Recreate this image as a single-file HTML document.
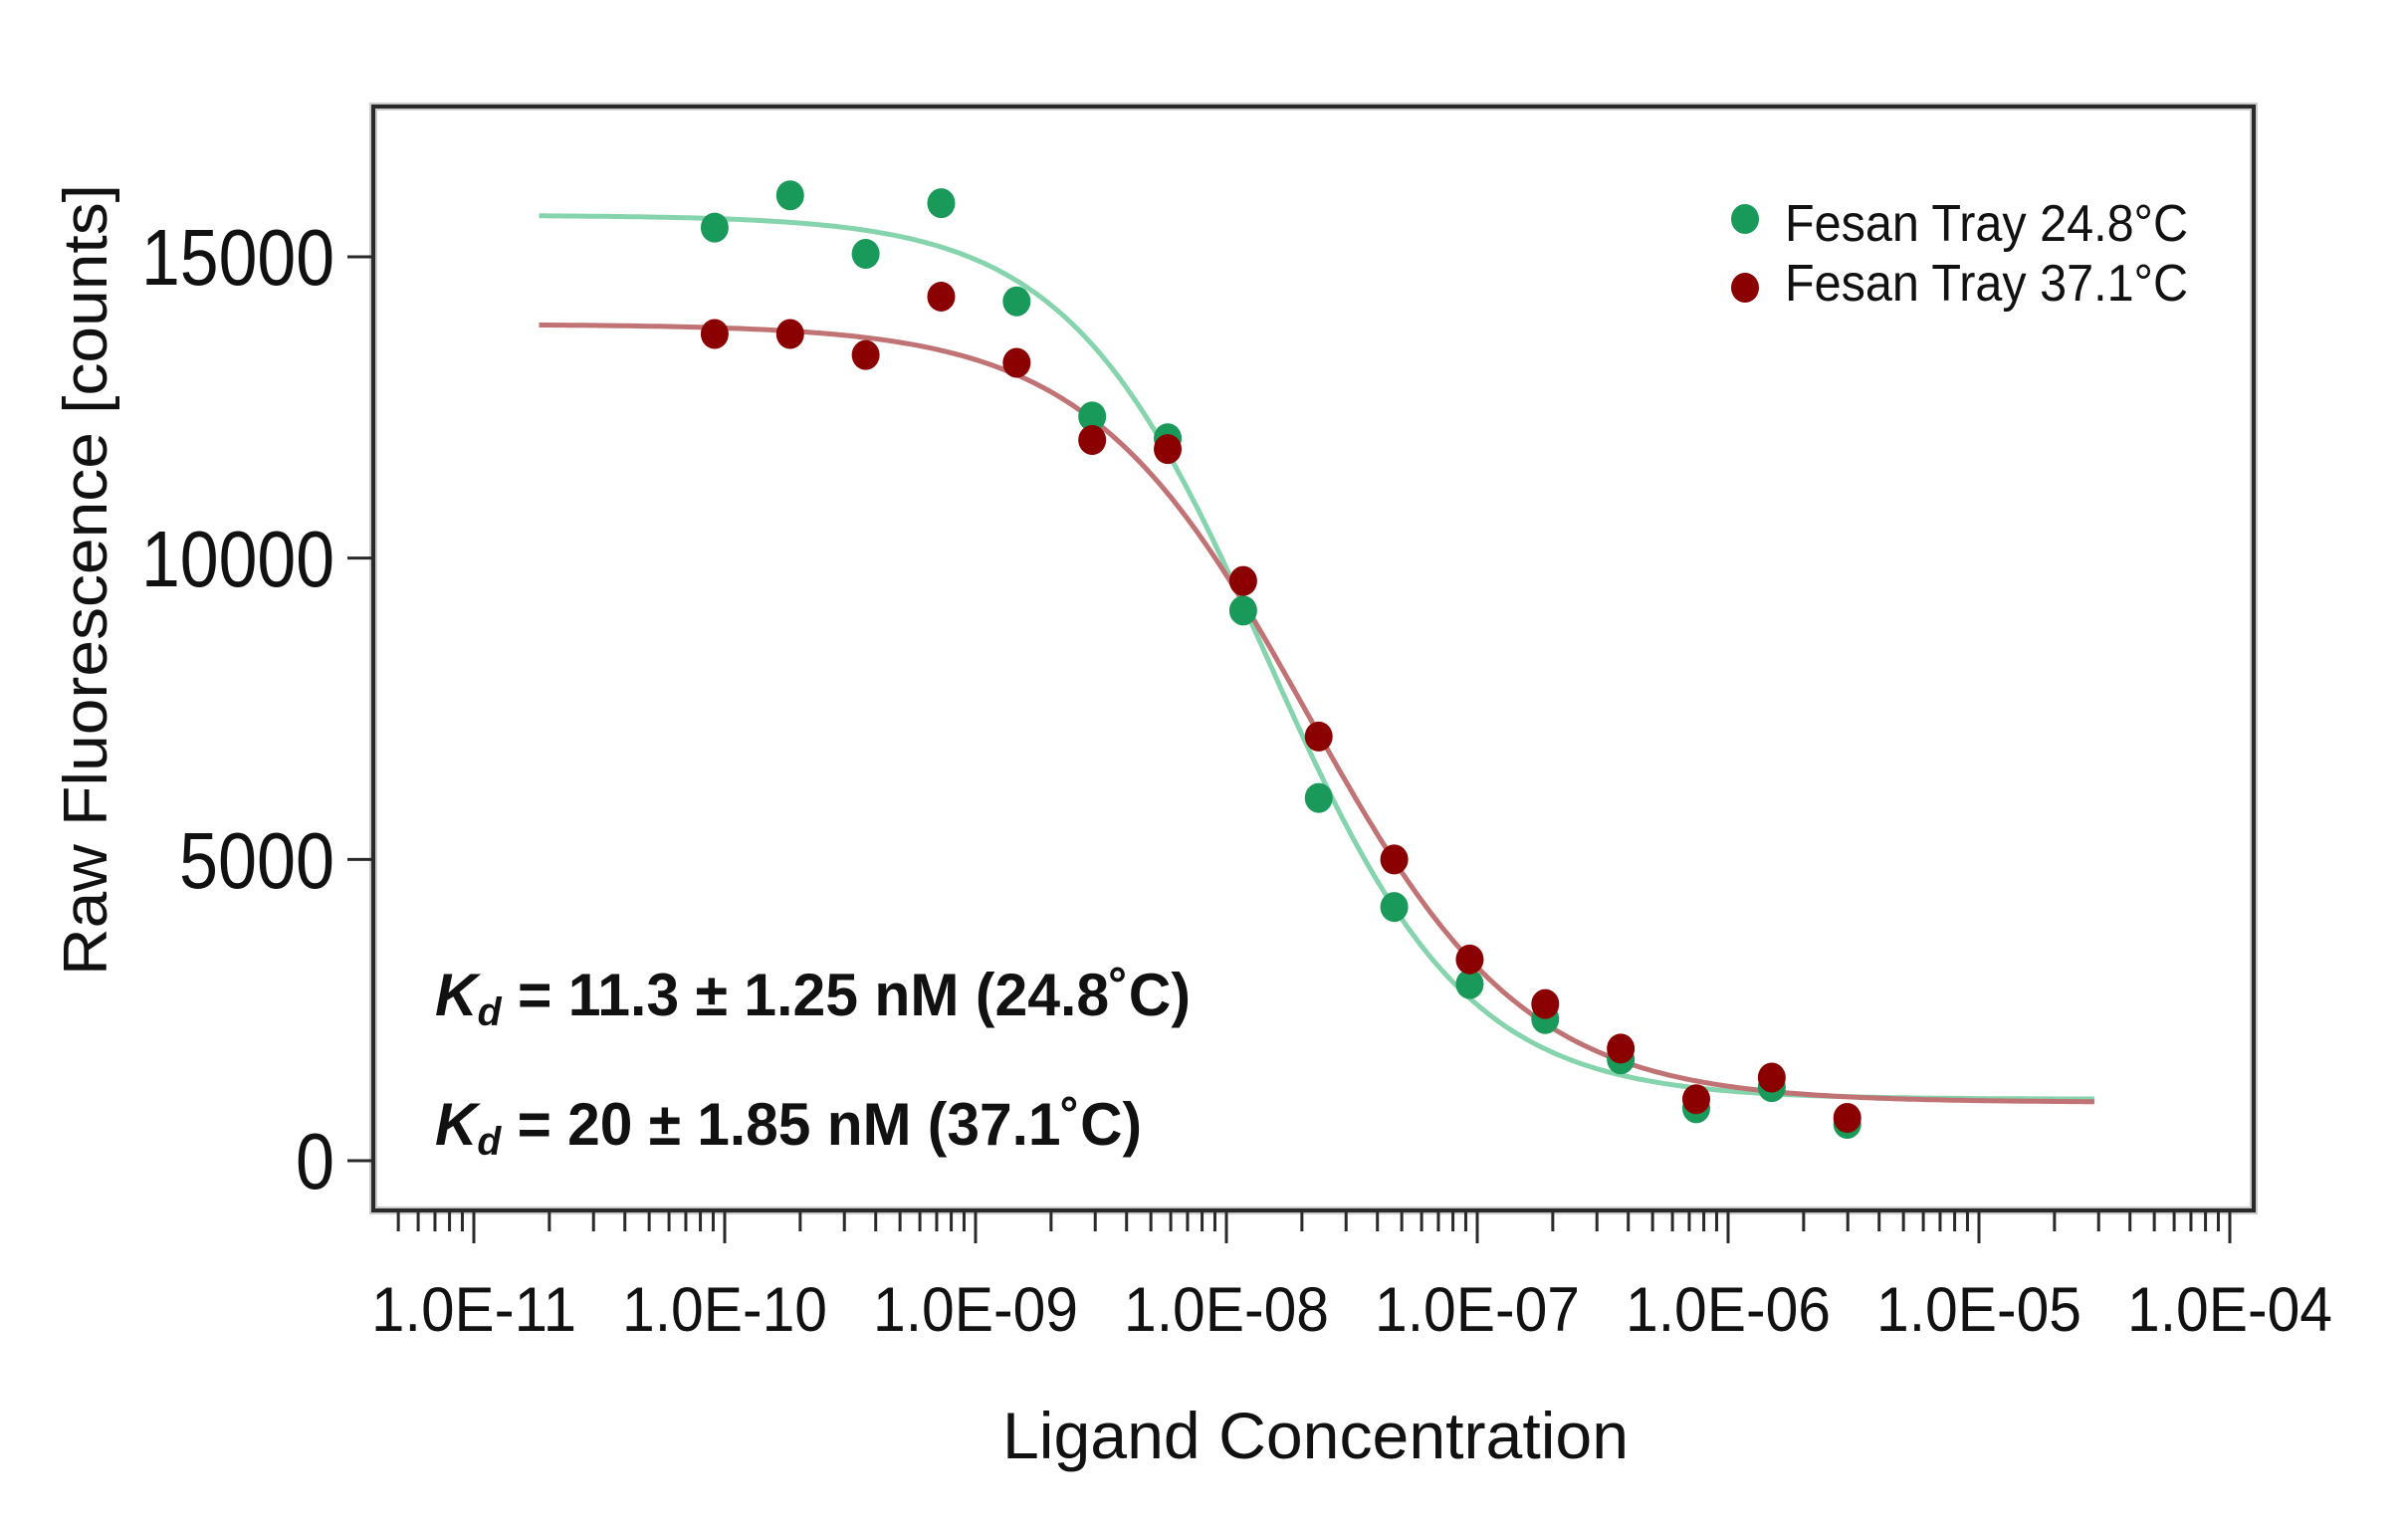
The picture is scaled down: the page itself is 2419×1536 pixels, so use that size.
<!DOCTYPE html>
<html><head><meta charset="utf-8"><style>
html,body{margin:0;padding:0;background:#fff;}
svg{display:block;}
text{font-family:"Liberation Sans",Arial,sans-serif;fill:#111;}
</style></head><body>
<svg id="s" width="2419" height="1536" viewBox="0 0 2419 1536" xmlns="http://www.w3.org/2000/svg">
<rect x="0" y="0" width="2419" height="1536" fill="#fff"/>
<g id="curves"></g>
<g id="pts"></g>
<!-- frame -->
<rect x="375" y="107" width="1889" height="1109" fill="none" stroke="#ccc" stroke-width="8"/>
<rect x="375" y="107" width="1889" height="1109" fill="none" stroke="#2a2a2a" stroke-width="4"/>
<g id="ticks" stroke="#2a2a2a" stroke-width="3"></g>
<!-- y tick labels -->
<g font-size="80" text-anchor="end">
<text x="336" y="286" textLength="194" lengthAdjust="spacingAndGlyphs">15000</text>
<text x="336" y="589" textLength="194" lengthAdjust="spacingAndGlyphs">10000</text>
<text x="336" y="892" textLength="156" lengthAdjust="spacingAndGlyphs">5000</text>
<text x="336" y="1194" textLength="39" lengthAdjust="spacingAndGlyphs">0</text>
</g>
<g id="xl" font-size="63"></g>
<text x="1007" y="1465" font-size="66" textLength="629" lengthAdjust="spacingAndGlyphs">Ligand Concentration</text>
<text transform="translate(107,980) rotate(-90)" font-size="62" textLength="795" lengthAdjust="spacingAndGlyphs">Raw Fluorescence [counts]</text>
<!-- legend -->
<ellipse cx="1753" cy="220" rx="14" ry="15" fill="#1a9a5a"/>
<ellipse cx="1753" cy="289" rx="14" ry="15" fill="#8b0000"/>
<text x="1793" y="242" font-size="52" fill="#222" textLength="405" lengthAdjust="spacingAndGlyphs">Fesan Tray 24.8°C</text>
<text x="1793" y="302" font-size="52" fill="#222" textLength="405" lengthAdjust="spacingAndGlyphs">Fesan Tray 37.1°C</text>
<!-- Kd -->
<text x="437" y="1020" font-size="60" font-weight="bold" textLength="759" lengthAdjust="spacingAndGlyphs"><tspan font-style="italic">K</tspan><tspan font-style="italic" font-size="40" dy="10">d</tspan><tspan dy="-10"> = 11.3 ± 1.25 nM (24.8˚C)</tspan></text>
<text x="437" y="1150" font-size="60" font-weight="bold" textLength="710" lengthAdjust="spacingAndGlyphs"><tspan font-style="italic">K</tspan><tspan font-style="italic" font-size="40" dy="10">d</tspan><tspan dy="-10"> = 20 ± 1.85 nM (37.1˚C)</tspan></text>
</svg>
<script>
var NS="http://www.w3.org/2000/svg";
function X(l){return 476+(l+11)*252;}
function Y(v){return 1166-v*908/15000;}
function el(p,t,a){var e=document.createElementNS(NS,t);for(var k in a)e.setAttribute(k,a[k]);p.appendChild(e);return e;}
var tk=document.getElementById('ticks');
for(var d=-12;d<=-4;d++){
  if(d>=-11){el(tk,'line',{x1:X(d),y1:1216,x2:X(d),y2:1249});}
  for(var m=2;m<=9;m++){var l=d+Math.log10(m);var x=X(l);if(x>377&&x<2264)el(tk,'line',{x1:x,y1:1216,x2:x,y2:1237});}
}
[15000,10000,5000,0].forEach(function(v){el(tk,'line',{x1:349,y1:Y(v),x2:375,y2:Y(v)});});
var xl=document.getElementById('xl');
var labs=['1.0E-11','1.0E-10','1.0E-09','1.0E-08','1.0E-07','1.0E-06','1.0E-05','1.0E-04'];
labs.forEach(function(s,i){var t=el(xl,'text',{x:X(-11+i)-103,y:1337,textLength:206,lengthAdjust:'spacingAndGlyphs'});t.textContent=s;});
var cg=document.getElementById('curves');
function curve(top,bot,ec,h,col){
  var d='';for(var l=-10.74;l<=-4.54;l+=0.02){var v=bot+(top-bot)/(1+Math.pow(Math.pow(10,l)/ec,h));d+=(d?'L':'M')+X(l).toFixed(1)+','+Y(v).toFixed(1);}
  el(cg,'path',{d:d,fill:'none',stroke:col,'stroke-width':5});
}
curve(15690,1020,1.45e-8,1.1,'#86d4ad');
curve(13880,970,2.1e-8,1.0,'#c07274');
var pg=document.getElementById('pts');
var G=[15485,16020,15050,15890,14260,12350,11990,9130,6020,4210,2930,2350,1680,870,1220,610];
var R=[13720,13720,13370,14340,13240,11960,11810,9620,7040,5000,3340,2600,1860,1020,1380,710];
for(var i=0;i<16;i++){var l=-10.04+i*0.301;
 el(pg,'ellipse',{cx:X(l),cy:Y(G[i]),rx:14,ry:15,fill:'#1a9a5a'});}
for(var i=0;i<16;i++){var l=-10.04+i*0.301;
 el(pg,'ellipse',{cx:X(l),cy:Y(R[i]),rx:14,ry:15,fill:'#8b0000'});}
</script>
</body></html>
